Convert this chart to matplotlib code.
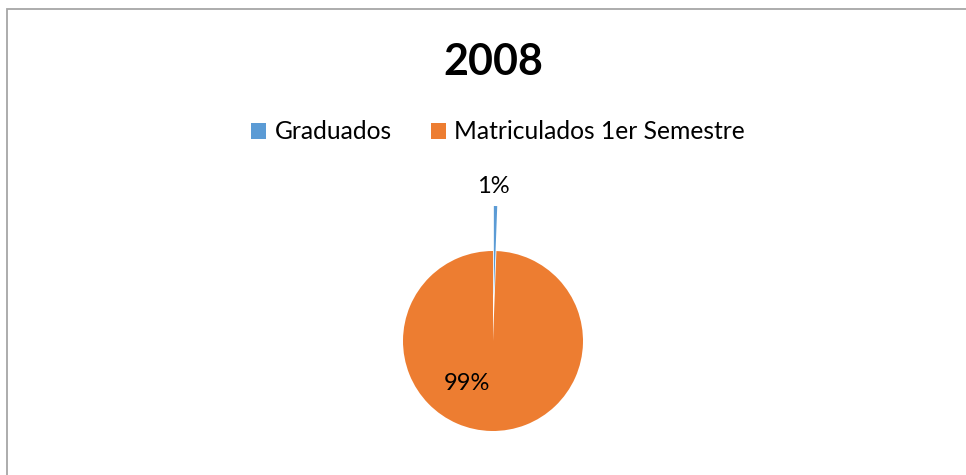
import matplotlib
matplotlib.use("Agg")
import matplotlib.pyplot as plt
from matplotlib.patches import Rectangle

plt.rcParams['font.family'] = ['Lato', 'DejaVu Sans']

title = "2008"
categories = ["Graduados", "Matriculados 1er Semestre"]
values = [6, 994]
colors = ["#5B9BD5", "#ED7D31"]
explode = [0.5, 0.0]

W, H = 966, 475
fig = plt.figure(figsize=(W / 100, H / 100), dpi=100)

# chart border
fig.patches.append(Rectangle((7 / W, -0.05), (W - 7 + 10) / W, (H - 9) / H + 0.05,
                             transform=fig.transFigure, fill=False,
                             edgecolor="#A6A6A6", linewidth=1.3))

R = 90.0
cx, cy = 493, H - 341
ax_l, ax_r, ax_b, ax_t = cx - 200, cx + 200, 0, 310
ax = fig.add_axes([ax_l / W, ax_b / H, (ax_r - ax_l) / W, (ax_t - ax_b) / H])

wedges, texts, autotexts = ax.pie(values, colors=colors, explode=explode,
                                  startangle=90, counterclock=False,
                                  radius=1.0, autopct="%.0f%%",
                                  wedgeprops=dict(linewidth=0),
                                  textprops=dict(fontsize=17, color="black"))
ax.set_xlim((ax_l - cx) / R, (ax_r - cx) / R)
ax.set_ylim((ax_b - cy) / R, (ax_t - cy) / R)
ax.set_aspect("equal", adjustable="datalim")
ax.axis("off")

# draw orange on top
wedges[1].set_zorder(3)
wedges[0].set_zorder(2)
autotexts[0].set_position((0.0, 1.72))
autotexts[0].set_zorder(5)
autotexts[1].set_position((-0.29, -0.47))
autotexts[1].set_zorder(5)

fig.text(cx / W, 1 - 62 / H, title, ha="center", va="center",
         fontsize=31, fontweight="bold")

leg = fig.legend(wedges, categories, loc="center", bbox_to_anchor=(498 / W, 1 - 132 / H),
                 ncol=2, frameon=False, fontsize=17.7, handlelength=0.6,
                 handleheight=0.6, handletextpad=0.35, columnspacing=1.6)

fig.savefig("out.png", dpi=100)
